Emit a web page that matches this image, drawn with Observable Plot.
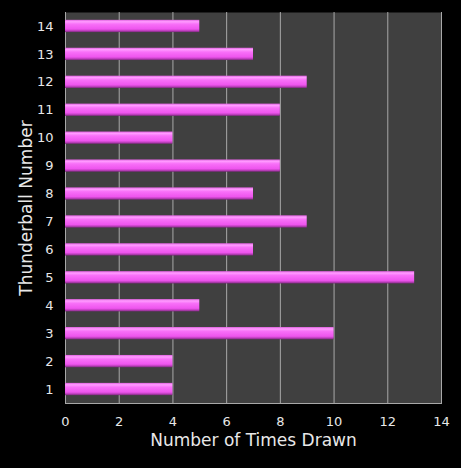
<!DOCTYPE html>
<html><head><meta charset="utf-8">
<script src="https://cdn.jsdelivr.net/npm/d3@7"></script>
<script src="https://cdn.jsdelivr.net/npm/@observablehq/plot@0.6"></script>
<style>
html,body{margin:0;padding:0;background:#000;}
#chart svg{display:block;}
</style>
</head><body><div id="chart"></div>
<script>
const numbers = [1,2,3,4,5,6,7,8,9,10,11,12,13,14];
const timesDrawn = [4,4,10,5,13,7,9,7,8,4,8,9,7,5];
const xTicks = [0,2,4,6,8,10,12,14];
const data = numbers.map((n,i)=>({number:String(n), count:timesDrawn[i]}));

const chart = Plot.plot({
  width: 461, height: 468,
  marginLeft: 65, marginRight: 20, marginTop: 12, marginBottom: 65,
  style: {background:"#000", color:"#e8e8e8", fontFamily:"DejaVu Sans, sans-serif", fontSize:"13px"},
  x: {domain:[0,14]},
  y: {domain: numbers.map(String).reverse(), paddingInner:0.56, paddingOuter:0.28, round:false},
  marks: [
    Plot.frame({fill:"#404040", stroke:null}),
    Plot.ruleX(xTicks, {stroke:"#a8a8a8", strokeWidth:1}),
    Plot.barX(data, {x:"count", y:"number", fill:"url(#barGrad)"}),
    Plot.frame({anchor:"bottom", stroke:"#a8a8a8"}),
    Plot.axisX({ticks:xTicks, tickSize:0, tickPadding:13, label:"Number of Times Drawn", labelArrow:"none", labelAnchor:"center", labelOffset:42, fontSize:13}),
    Plot.axisY({tickSize:0, tickPadding:12, label:"Thunderball Number", labelArrow:"none", labelAnchor:"center", labelOffset:46, fontSize:13})
  ]
});
const ns = "http://www.w3.org/2000/svg";
const defs = document.createElementNS(ns,"defs");
defs.innerHTML = `<linearGradient id="barGrad" x1="0" y1="0" x2="0" y2="1">
<stop offset="0" stop-color="#e060e0"/>
<stop offset="0.15" stop-color="#ff9cff"/>
<stop offset="0.35" stop-color="#f870f8"/>
<stop offset="0.75" stop-color="#ee55ee"/>
<stop offset="0.88" stop-color="#c040c0"/>
<stop offset="1" stop-color="#7a2a7a"/>
</linearGradient>`;
chart.insertBefore(defs, chart.firstChild);
chart.querySelectorAll('[aria-label="x-axis label"], [aria-label="y-axis label"]').forEach(g=>{g.setAttribute("font-size","17");g.querySelectorAll("text").forEach(t=>t.setAttribute("font-size","17"));});
document.getElementById("chart").appendChild(chart);
</script>
</body></html>
